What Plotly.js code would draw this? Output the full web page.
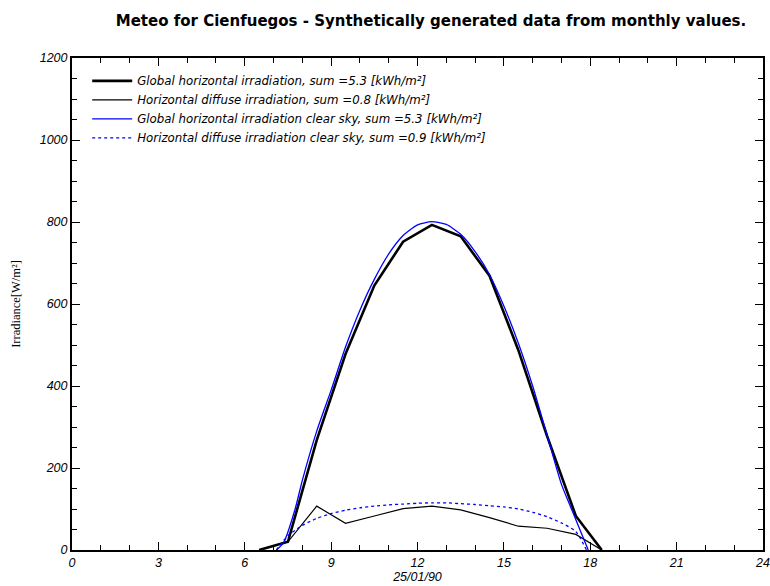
<!DOCTYPE html>
<html>
<head>
<meta charset="utf-8">
<script src="https://cdn.plot.ly/plotly-3.0.1.min.js"></script>
<style>body{margin:0;padding:0;background:#fff}#chart{width:770px;height:586px}</style>
</head>
<body>
<div id="chart"></div>
<script>
// Hours of the day (25/01/90)
const hoursMeasured = [6.5, 7.5, 8.5, 9.5, 10.5, 11.5, 12.5, 13.5, 14.5, 15.5, 16.5, 17.5, 18.4];
const globalHoriz   = [0, 20, 268, 478, 645, 752, 793, 765, 669, 488, 278, 83, 0];
const diffuseHoriz  = [0, 20, 107, 65, 83, 101, 107, 98, 79, 58, 53, 38, 0];

const hoursClear    = [7.1, 7.35, 7.75, 8.0, 8.5, 9.0, 9.5, 10.0, 10.5, 11.0, 11.5, 12.0, 12.5, 13.0, 13.5, 14.0, 14.5, 15.0, 15.5, 16.0, 16.5, 17.0, 17.3, 17.5, 17.93];
const globalClear   = [0, 18, 100, 170, 290, 390, 495, 585, 660, 722, 767, 793, 801, 794, 770, 728, 672, 595, 505, 400, 280, 160, 108, 74, 0];
const hoursClearDif = [7.1, 7.5, 8.0, 8.5, 9.0, 9.5, 10.0, 10.5, 11.0, 11.5, 12.0, 12.5, 13.0, 13.5, 14.0, 14.5, 15.0, 15.5, 16.0, 16.5, 17.0, 17.5, 17.87];
const diffuseClear  = [0, 35, 60, 77, 89, 97, 103, 107, 110, 112, 114, 115, 115, 113, 111, 108, 105, 100, 92, 81, 66, 45, 0];

const seriesNames = [
  'Global horizontal irradiation, sum =5.3 [kWh/m²]',
  'Horizontal diffuse irradiation, sum =0.8 [kWh/m²]',
  'Global horizontal irradiation clear sky, sum =5.3 [kWh/m²]',
  'Horizontal diffuse irradiation clear sky, sum =0.9 [kWh/m²]'
];

const traces = [
  {x: hoursMeasured, y: globalHoriz, name: seriesNames[0], mode: 'lines', line: {color: '#000000', width: 2.6}},
  {x: hoursMeasured, y: diffuseHoriz, name: seriesNames[1], mode: 'lines', line: {color: '#000000', width: 1.2}},
  {x: hoursClear, y: globalClear, name: seriesNames[2], mode: 'lines', line: {color: '#0000ff', width: 1.3, shape: 'spline', smoothing: 0.6}},
  {x: hoursClearDif, y: diffuseClear, name: seriesNames[3], mode: 'lines', line: {color: '#0000ff', width: 1.3, dash: '3px,3px', shape: 'spline', smoothing: 0.6}}
];

const tickFont = {family: 'Liberation Sans, Arial, sans-serif', size: 12.5, color: '#000', style: 'italic'};

const layout = {
  width: 770, height: 586,
  margin: {l: 72, r: 7, t: 58, b: 36},
  paper_bgcolor: '#fff', plot_bgcolor: '#fff',
  showlegend: true,
  title: {
    text: '<b>Meteo for Cienfuegos - Synthetically generated data from monthly values.</b>',
    font: {family: 'DejaVu Sans, sans-serif', size: 15, color: '#000'},
    x: 431/770, xanchor: 'center', xref: 'container', y: 1 - 21/586, yanchor: 'middle', yref: 'container'
  },
  legend: {
    x: 0.022, y: 0.983, xanchor: 'left', yanchor: 'top',
    bgcolor: 'rgba(0,0,0,0)', borderwidth: 0,
    font: {family: 'DejaVu Sans, sans-serif', size: 11.8, color: '#000', style: 'italic'},
    tracegroupgap: 0, itemwidth: 40
  },
  xaxis: {
    range: [0, 24], tickmode: 'linear', tick0: 0, dtick: 3,
    ticks: 'inside', ticklen: 8, tickwidth: 1, tickcolor: '#000',
    minor: {dtick: 1, ticks: 'inside', ticklen: 5, tickwidth: 1, tickcolor: '#000', showgrid: false},
    showline: true, linecolor: '#000', linewidth: 2, mirror: 'allticks',
    showgrid: false, zeroline: false,
    tickfont: tickFont,
    title: {text: '25/01/90', font: tickFont, standoff: 3}
  },
  yaxis: {
    range: [0, 1200], tickmode: 'linear', tick0: 0, dtick: 200,
    ticks: 'inside', ticklen: 8, tickwidth: 1, tickcolor: '#000',
    minor: {dtick: 50, ticks: 'inside', ticklen: 5, tickwidth: 1, tickcolor: '#000', showgrid: false},
    showline: true, linecolor: '#000', linewidth: 2, mirror: 'allticks',
    showgrid: false, zeroline: false,
    tickfont: tickFont,
    title: {text: 'Irradiance[W/m²]', font: {family: 'Liberation Serif, Times New Roman, serif', size: 12.5, color: '#000'}, standoff: 16}
  }
};

Plotly.newPlot('chart', traces, layout, {displayModeBar: false, staticPlot: true});
</script>
</body>
</html>
